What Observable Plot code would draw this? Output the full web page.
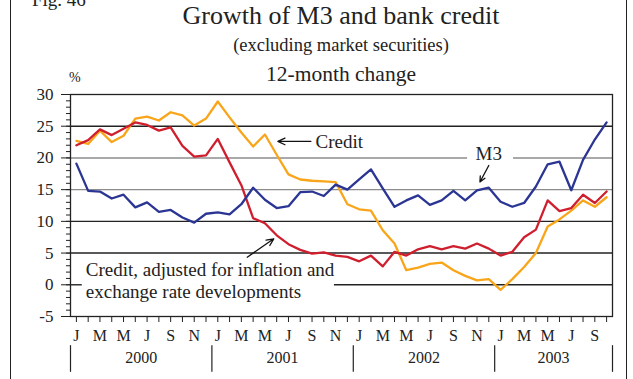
<!DOCTYPE html>
<html><head><meta charset="utf-8">
<script src="https://cdn.jsdelivr.net/npm/d3@7"></script>
<script src="https://cdn.jsdelivr.net/npm/@observablehq/plot@0.6"></script>
<style>
body{margin:0;background:#fff;}
#wrap{position:relative;width:633px;height:379px;overflow:hidden;font-family:"Liberation Serif","Times New Roman",serif;color:#222;background:#fff;}
.t{position:absolute;left:0;width:682px;text-align:center;white-space:nowrap;line-height:1;}
.bl{position:absolute;top:0;width:0;height:379px;border-left:1.3px solid #222;}
#chart{position:absolute;left:0;top:80px;}
#chart svg, #chart svg text{font-family:"Liberation Serif","Times New Roman",serif !important;}
</style></head>
<body>
<div id="wrap">
  <div class="bl" style="left:10px"></div>
  <div class="bl" style="left:626px"></div>
  <div style="position:absolute;left:32px;top:-10px;font-size:19px;line-height:1;">Fig. 46</div>
  <div class="t" style="top:3px;font-size:26px;">Growth of M3 and bank credit</div>
  <div class="t" style="top:36px;font-size:18.5px;">(excluding market securities)</div>
  <div class="t" style="top:64px;font-size:21.5px;">12-month change</div>
  <div style="position:absolute;left:69px;top:71px;font-size:14px;line-height:1;">%</div>
  <div id="chart"></div>
</div>
<script>
// Month categories Jan 2000 .. Oct 2003
const monthLetters = ["J","F","M","A","M","J","J","A","S","O","N","D"];
const years = ["2000","2001","2002","2003"];
const nMonths = 46;

// 12-month change, %
const m3 = [19.1,14.8,14.7,13.6,14.2,12.2,13.0,11.5,11.8,10.6,9.8,11.2,
            11.4,11.1,12.7,15.3,13.4,12.1,12.4,14.6,14.7,14.0,15.8,15.0,
            16.6,18.2,15.2,12.3,13.3,14.1,12.6,13.3,14.8,13.3,14.9,15.3,
            13.1,12.3,12.9,15.5,19.0,19.4,14.9,19.7,22.9,25.6];
const credit = [22.7,22.2,24.3,22.5,23.5,26.2,26.5,25.9,27.2,26.7,25.1,26.2,
                28.9,26.4,24.0,21.8,23.7,20.5,17.4,16.6,16.4,16.3,16.2,12.7,
                11.9,11.7,8.6,6.5,2.3,2.7,3.3,3.5,2.3,1.4,0.7,0.9,
                -0.8,0.9,2.8,5.0,9.2,10.3,11.7,13.3,12.3,13.8];
const creditAdj = [22.0,22.8,24.5,23.6,24.6,25.6,25.2,24.3,24.8,21.9,20.2,20.4,
                   23.0,19.3,15.7,10.5,9.7,7.8,6.4,5.5,4.9,5.1,4.6,4.4,
                   3.7,4.6,2.9,5.2,4.6,5.6,6.1,5.6,6.1,5.7,6.5,5.7,
                   4.6,5.2,7.5,8.7,13.3,11.6,12.1,14.2,12.9,14.7];

const yMajor = [-5,0,5,10,15,20,25,30];

const toRows = arr => arr.map((v, i) => ({i, v}));

// gridlines (value, from, to, colour)
const grid = [
  {v:25, a:-0.5, b:45.5, c:"#222"},
  {v:20, a:-0.5, b:33.2, c:"#8c8c8c"},
  {v:20, a:37.1, b:45.5, c:"#8c8c8c"},
  {v:15, a:-0.5, b:45.5, c:"#8c8c8c"},
  {v:10, a:-0.5, b:45.5, c:"#222"},
  {v:5,  a:-0.5, b:45.5, c:"#222"},
  {v:0,  a:-0.5, b:0.5,  c:"#222"},
  {v:0,  a:21.9, b:45.5, c:"#222"}
];

const yearRows = years.map((y, k) => ({y, mid: (Math.max(-0.5, k*12-0.5) + Math.min(45.5, k*12+11.5))/2}));
const yearBounds = [-0.5, 11.5, 23.5, 35.5, 45.5];

const startLabels = [
  {x:20.3, y:22.6, t:"Credit"},
  {x:0.8,  y:0.7,  t:"Credit, adjusted for inflation and\nexchange rate developments"}
];
const midLabels = [
  {x:35.0, y:20.6, t:"M3"}
];
const arrows = [
  {x1:19.9, y1:22.6, x2:17.1, y2:22.6},
  {x1:35.0, y1:18.8, x2:34.25, y2:16.2},
  {x1:14.5, y1:4.35, x2:16.75, y2:7.25}
];

const chart = Plot.plot({
  width: 633, height: 299,
  marginTop: 14, marginBottom: 63, marginLeft: 70, marginRight: 21,
  style: {fontSize: "16px", color: "#222", background: "transparent", overflow: "visible"},
  x: {domain: [-0.5, 45.5], axis: null},
  y: {domain: [-5, 30], axis: null},
  marks: [
    Plot.ruleY(grid, {y: "v", x1: "a", x2: "b", stroke: "c", strokeWidth: 1.4}),
    Plot.axisY({ticks: d3.range(-5, 31), tickSize: 4, tickFormat: () => "", stroke: "#222"}),
    Plot.axisY({ticks: yMajor, tickSize: 9, tickPadding: 8, fontSize: 17, stroke: "#222", fill: "#222", tickFormat: d => String(d)}),
    Plot.axisX({ticks: d3.range(nMonths), tickSize: 6, tickFormat: () => "", stroke: "#222"}),
    Plot.axisX({ticks: d3.range(0, nMonths, 2), tickSize: 0, tickPadding: 13, fontSize: 16, fill: "#222", tickFormat: i => monthLetters[i % 12]}),
    Plot.text(yearRows, {x: "mid", text: "y", frameAnchor: "bottom", dy: 46, fontSize: 16, fill: "#222"}),
    Plot.ruleX(yearBounds, {x: d => d, y1: -9.6, y2: -13.8, stroke: "#222", strokeWidth: 1.2}),
    Plot.line(toRows(credit), {x: "i", y: "v", stroke: "#f9a51a", strokeWidth: 2.3}),
    Plot.line(toRows(creditAdj), {x: "i", y: "v", stroke: "#cf1f2e", strokeWidth: 2.3}),
    Plot.line(toRows(m3), {x: "i", y: "v", stroke: "#2b3593", strokeWidth: 2.3}),
    Plot.frame({stroke: "#222", strokeWidth: 1.3}),
    Plot.text(startLabels, {x: "x", y: "y", text: "t", textAnchor: "start", fontSize: 19, lineHeight: 1.15, fill: "#222"}),
    Plot.text(midLabels, {x: "x", y: "y", text: "t", textAnchor: "middle", fontSize: 19, fill: "#222"}),
    Plot.arrow(arrows, {x1: "x1", y1: "y1", x2: "x2", y2: "y2", stroke: "#111", strokeWidth: 1.3, headLength: 9, headAngle: 50})
  ]
});
document.getElementById("chart").appendChild(chart);
</script>
</body></html>
